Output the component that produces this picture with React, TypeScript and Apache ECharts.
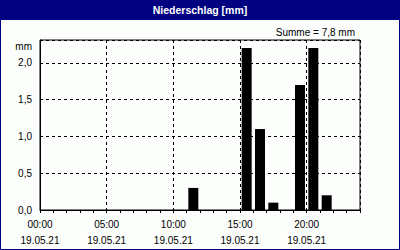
import React, { useEffect, useRef } from "react";
import * as echarts from "echarts";

const titleText = "Niederschlag [mm]";
const sumText = "Summe = 7,8 mm";
const unitText = "mm";
const dateLabel = "19.05.21";
const hourLabels = ["00:00", "05:00", "10:00", "15:00", "20:00"];
// hourly precipitation, hours 0..23
const hours = Array.from({ length: 24 }, (_, i) => i);
const precip = [0, 0, 0, 0, 0, 0, 0, 0, 0, 0, 0, 0.3, 0, 0, 0, 2.2, 1.1, 0.1, 0, 1.7, 2.2, 0.2, 0, 0];

const FONT = "'Liberation Sans', Arial, sans-serif";

export default function App() {
  const ref = useRef<HTMLDivElement>(null);
  useEffect(() => {
    document.body.style.margin = "0";
    const chart = echarts.init(ref.current!, null, { renderer: "svg" });
    const dash = [3, 3];
    chart.setOption({
      animation: false,
      backgroundColor: "#fcfefc",
      textStyle: { fontFamily: FONT },
      grid: {
        left: 40,
        right: 40,
        top: 40,
        bottom: 40,
        show: true,
        borderColor: "#000",
        borderWidth: 1,
        backgroundColor: "transparent",
      },
      xAxis: [
        {
          type: "value",
          min: 0,
          max: 24,
          interval: 1,
          position: "bottom",
          axisLine: { show: true, lineStyle: { color: "#000", width: 1 } },
          axisTick: { show: true, length: 3, lineStyle: { color: "#000" } },
          splitLine: { show: false },
          axisLabel: {
            color: "#000",
            fontSize: 10,
            fontFamily: FONT,
            lineHeight: 16,
            margin: 6,
            formatter: (v: number) => {
              if (v % 5 === 0 && v / 5 < hourLabels.length) {
                return hourLabels[v / 5] + "\n" + dateLabel;
              }
              return "";
            },
          },
        },
        {
          type: "value",
          min: 0,
          max: 24,
          interval: 5,
          position: "bottom",
          axisLine: { show: false },
          axisTick: { show: false },
          axisLabel: { show: false },
          splitLine: { show: true, lineStyle: { color: "#000", type: dash, width: 1 } },
        },
      ],
      yAxis: {
        type: "value",
        min: 0,
        max: 2.31,
        interval: 0.5,
        axisLine: { show: true, lineStyle: { color: "#000", width: 1 } },
        axisTick: { show: false },
        splitLine: { show: true, lineStyle: { color: "#000", type: dash, width: 1 } },
        axisLabel: {
          color: "#000",
          fontSize: 10,
          fontFamily: FONT,
          margin: 8,
          formatter: (v: number) => (v > 2.05 ? "" : v.toFixed(1).replace(".", ",")),
        },
      },
      series: [
        {
          type: "bar",
          xAxisIndex: 0,
          yAxisIndex: 0,
          barWidth: 10,
          itemStyle: { color: "#000" },
          data: hours.map((h, i) => [h + 0.5, precip[i]]).filter((d) => d[1] > 0),
          z: 3,
        },
      ],
      graphic: [
        {
          type: "rect",
          shape: { x: 0, y: 0, width: 400, height: 20 },
          style: { fill: "#000080" },
          z: 10,
        },
        {
          type: "rect",
          shape: { x: 0.5, y: 0.5, width: 399, height: 249 },
          style: { fill: "none", stroke: "#000080", lineWidth: 1 },
          z: 10,
        },
        {
          type: "text",
          x: 200,
          y: 10,
          z: 11,
          style: {
            text: titleText,
            fill: "#fff",
            font: `bold 10.5px ${FONT}`,
            align: "center",
            verticalAlign: "middle",
          },
        },
        {
          type: "text",
          x: 355,
          y: 32,
          z: 11,
          style: {
            text: sumText,
            fill: "#000",
            font: `10px ${FONT}`,
            align: "right",
            verticalAlign: "middle",
          },
        },
        {
          type: "text",
          x: 32,
          y: 46,
          z: 11,
          style: {
            text: unitText,
            fill: "#000",
            font: `10px ${FONT}`,
            align: "right",
            verticalAlign: "middle",
          },
        },
      ],
    });
    return () => chart.dispose();
  }, []);
  return <div ref={ref} style={{ width: 400, height: 250 }} />;
}
